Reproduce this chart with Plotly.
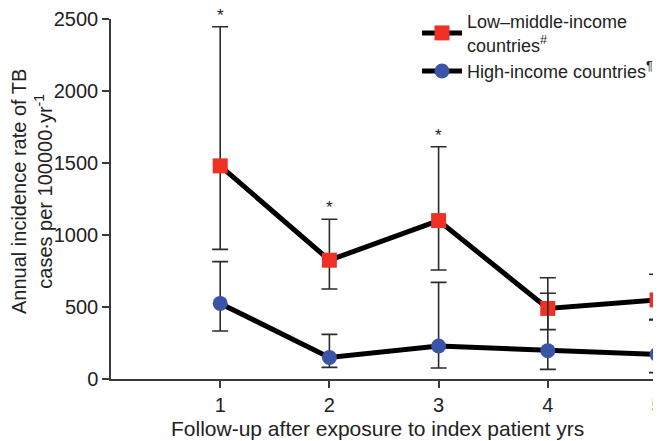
import plotly.graph_objects as go

years = [1, 2, 3, 4, 5]
lmic_rate = [1480, 825, 1100, 490, 549]
lmic_upper = [2446, 1109, 1613, 703, 727]
lmic_lower = [900, 625, 757, 343, 414]
hic_rate = [525, 150, 229, 197, 171]
hic_upper = [815, 310, 671, 595, 410]
hic_lower = [333, 81, 76, 67, 44]
star_years = [1, 2, 3]
y_ticks = [0, 500, 1000, 1500, 2000, 2500]

RED = "#EE3124"
BLUE = "#3A55A8"
AX = "#3a3a3a"
TXT = "#222222"
FONT = "Liberation Sans, Arial, sans-serif"

# page body adds an 8px offset; figure sized to fill the rest of the window
W, H = 653, 433
L, T, PW, PH = 103, 11, 546, 360

def err(vals, up, lo):
    return dict(type="data", symmetric=False,
                array=[u - v for u, v in zip(up, vals)],
                arrayminus=[v - l for v, l in zip(vals, lo)],
                color="#2b2b2b", thickness=1.6, width=8)

fig = go.Figure()
fig.add_trace(go.Scatter(
    x=years, y=lmic_rate, mode="lines+markers",
    name="Low–middle-income<br>countries<sup>#</sup>",
    line=dict(color="black", width=5),
    marker=dict(symbol="square", size=15, color=RED),
    error_y=err(lmic_rate, lmic_upper, lmic_lower),
    cliponaxis=False))
fig.add_trace(go.Scatter(
    x=years, y=hic_rate, mode="lines+markers",
    name="High-income countries<sup>¶</sup>",
    line=dict(color="black", width=5),
    marker=dict(symbol="circle", size=15, color=BLUE),
    error_y=err(hic_rate, hic_upper, hic_lower),
    cliponaxis=False))

for yr in star_years:
    i = years.index(yr)
    fig.add_annotation(x=yr, y=lmic_upper[i], text="*", showarrow=False,
                       yanchor="bottom", yshift=0,
                       font=dict(size=17, color=TXT, family=FONT))

# axis titles
fig.add_annotation(xref="paper", yref="paper",
                   x=(24 - L) / PW, y=(T + PH - 183) / PH,
                   xanchor="center", yanchor="middle", textangle=-90,
                   text="Annual incidence rate of TB<br>cases per 100000·yr<sup>-1</sup>",
                   showarrow=False, font=dict(size=20, color=TXT, family=FONT))
fig.add_annotation(xref="paper", yref="paper",
                   x=(369.5 - L) / PW, y=(T + PH - 420) / PH,
                   xanchor="center", yanchor="middle",
                   text="Follow-up after exposure to index patient yrs",
                   showarrow=False, font=dict(size=21, color=TXT, family=FONT))

fig.update_layout(
    width=W, height=H,
    margin=dict(l=L, r=W - L - PW, t=T, b=H - T - PH, autoexpand=False),
    paper_bgcolor="white", plot_bgcolor="white",
    font=dict(family=FONT, color=TXT, size=20),
    showlegend=True,
    legend=dict(x=(409 - L) / PW, y=1 + 16 / PH, xanchor="left", yanchor="top",
                font=dict(size=18, color=TXT), bgcolor="rgba(0,0,0,0)",
                itemwidth=40, tracegroupgap=2),
    xaxis=dict(range=[0, 5], tickvals=years, showgrid=False, zeroline=False,
               showline=True, linecolor=AX, linewidth=1.5,
               ticks="outside", ticklen=7, tickcolor=AX, tickwidth=1.5,
               tickfont=dict(size=20), automargin=False,
               ticklabeloverflow="allow"),
    yaxis=dict(range=[0, 2500], tickvals=y_ticks, showgrid=False, zeroline=False,
               showline=True, linecolor=AX, linewidth=1.5,
               ticks="outside", ticklen=7, tickcolor=AX, tickwidth=1.5,
               tickfont=dict(size=20), automargin=False),
)

fig.write_html("out.html")
